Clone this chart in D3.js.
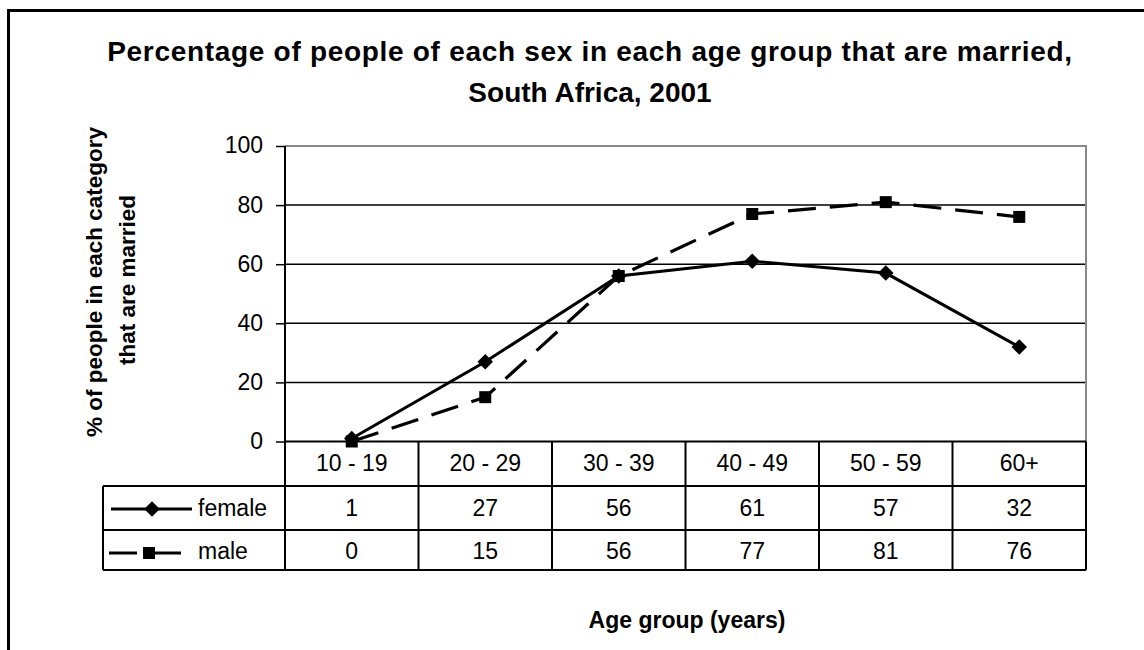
<!DOCTYPE html>
<html><head><meta charset="utf-8">
<script src="https://cdn.jsdelivr.net/npm/d3@7"></script>
<style>body{margin:0;background:#fff}svg{display:block;font-family:"Liberation Sans",Arial,sans-serif}</style>
</head><body>
<svg id="c" width="1144" height="650"></svg>
<script>
const categories = ["10 - 19","20 - 29","30 - 39","40 - 49","50 - 59","60+"];
const female = [1,27,56,61,57,32];
const male = [0,15,56,77,81,76];
const yTicks = [0,20,40,60,80,100];
const titleLines = ["Percentage of people of each sex in each age group that are married,","South Africa, 2001"];
const yTitleLines = ["% of people in each category","that are married"];
const xTitle = "Age group (years)";
const seriesNames = ["female","male"];

const svg = d3.select("#c");
svg.append("rect").attr("x",8.5).attr("y",10.5).attr("width",1160).attr("height",660)
  .attr("fill","none").attr("stroke","#000").attr("stroke-width",3);

const L=285,R=1086,T=146,B=441.5;
const x = d3.scaleBand().domain(categories).range([L,R]);
const y = d3.scaleLinear().domain([0,100]).range([B,T]);

// title
svg.append("g").selectAll("text").data(titleLines).join("text")
  .attr("x",590).attr("y",(d,i)=>i?101.5:61).attr("text-anchor","middle")
  .attr("letter-spacing",(d,i)=>i?0:0.7)
  .attr("font-weight","bold").attr("font-size",28).text(d=>d);

// gridlines
svg.append("g").selectAll("line").data(yTicks.filter(t=>t>0&&t<100)).join("line")
  .attr("x1",L).attr("x2",R).attr("y1",d=>y(d)).attr("y2",d=>y(d))
  .attr("stroke","#000").attr("stroke-width",1.5);
// plot border top/right gray
svg.append("path").attr("d",`M${L},${y(100)}H${R}V${B}`).attr("fill","none")
  .attr("stroke","#888").attr("stroke-width",2);

// y axis
const ya = svg.append("g").attr("transform",`translate(${L},0)`)
  .call(d3.axisLeft(y).tickValues(yTicks).tickSize(9).tickPadding(13));
ya.select(".domain").attr("stroke","#000").attr("stroke-width",2).attr("d",`M0,${T}V${B}`);
ya.selectAll(".tick line").attr("stroke","#000").attr("stroke-width",1.5);
ya.selectAll(".tick text").attr("font-size",23).attr("dy","0.3em")
  .attr("font-family","Liberation Sans, Arial, sans-serif").attr("fill","#000");

// y title
const yt=[{bx:102,cy:282},{bx:135,cy:280}];
svg.append("g").selectAll("text").data(yTitleLines).join("text")
  .attr("transform",(d,i)=>`translate(${yt[i].bx},${yt[i].cy}) rotate(-90)`)
  .attr("text-anchor","middle").attr("font-weight","bold").attr("font-size",22.5).text(d=>d);

// table
const rowY=[B,486,530,570];
const TL=103;
const tg=svg.append("g").attr("stroke","#000").attr("stroke-width",2);
tg.append("line").attr("x1",L).attr("x2",R).attr("y1",B).attr("y2",B);
tg.selectAll(".h").data(rowY.slice(1)).join("line").attr("x1",TL).attr("x2",R).attr("y1",d=>d).attr("y2",d=>d);
tg.append("line").attr("x1",TL).attr("x2",TL).attr("y1",486).attr("y2",570);
const bounds = categories.map(c=>x(c)).concat([R]);
tg.selectAll(".v").data(bounds).join("line").attr("x1",d=>d).attr("x2",d=>d)
  .attr("y1",B).attr("y2",570);

const cellText = svg.append("g").attr("font-size",23).attr("text-anchor","middle");
cellText.selectAll(".c").data(categories).join("text")
  .attr("x",d=>x(d)+x.bandwidth()/2).attr("y",471).text(d=>d);
cellText.selectAll(".f").data(female).join("text")
  .attr("x",(d,i)=>x(categories[i])+x.bandwidth()/2).attr("y",516).text(d=>d);
cellText.selectAll(".m").data(male).join("text")
  .attr("x",(d,i)=>x(categories[i])+x.bandwidth()/2).attr("y",559).text(d=>d);

// legend in table
const lg=svg.append("g");
lg.append("line").attr("x1",111).attr("x2",192).attr("y1",509).attr("y2",509).attr("stroke","#000").attr("stroke-width",3);
lg.append("rect").attr("x",-5.5).attr("y",-5.5).attr("width",11).attr("height",11)
  .attr("transform","translate(152,509) rotate(45)").attr("fill","#000");
lg.append("line").attr("x1",109).attr("x2",137).attr("y1",553).attr("y2",553).attr("stroke","#000").attr("stroke-width",3);
lg.append("line").attr("x1",155).attr("x2",181).attr("y1",553).attr("y2",553).attr("stroke","#000").attr("stroke-width",3);
lg.append("rect").attr("x",143).attr("y",547).attr("width",12).attr("height",12).attr("fill","#000");
lg.selectAll("text").data(seriesNames).join("text")
  .attr("x",198).attr("y",(d,i)=>i?559:516).attr("font-size",23).text(d=>d);

// series
const px = (i)=>x(categories[i])+x.bandwidth()/2;
const line = d3.line().x((d,i)=>px(i)).y(d=>y(d));
svg.append("path").datum(male).attr("d",line).attr("fill","none").attr("stroke","#000")
  .attr("stroke-width",3.2).attr("stroke-dasharray","28,14");
svg.append("path").datum(female).attr("d",line).attr("fill","none").attr("stroke","#000")
  .attr("stroke-width",3);
svg.append("g").selectAll("rect").data(male).join("rect")
  .attr("x",(d,i)=>px(i)-6).attr("y",d=>y(d)-6).attr("width",12).attr("height",12).attr("fill","#000");
svg.append("g").selectAll("rect").data(female).join("rect")
  .attr("x",-5.5).attr("y",-5.5).attr("width",11).attr("height",11)
  .attr("transform",(d,i)=>`translate(${px(i)},${y(d)}) rotate(45)`).attr("fill","#000");

// x title
svg.append("text").attr("x",687).attr("y",628).attr("text-anchor","middle")
  .attr("font-weight","bold").attr("font-size",23).text(xTitle);
</script>
</body></html>
